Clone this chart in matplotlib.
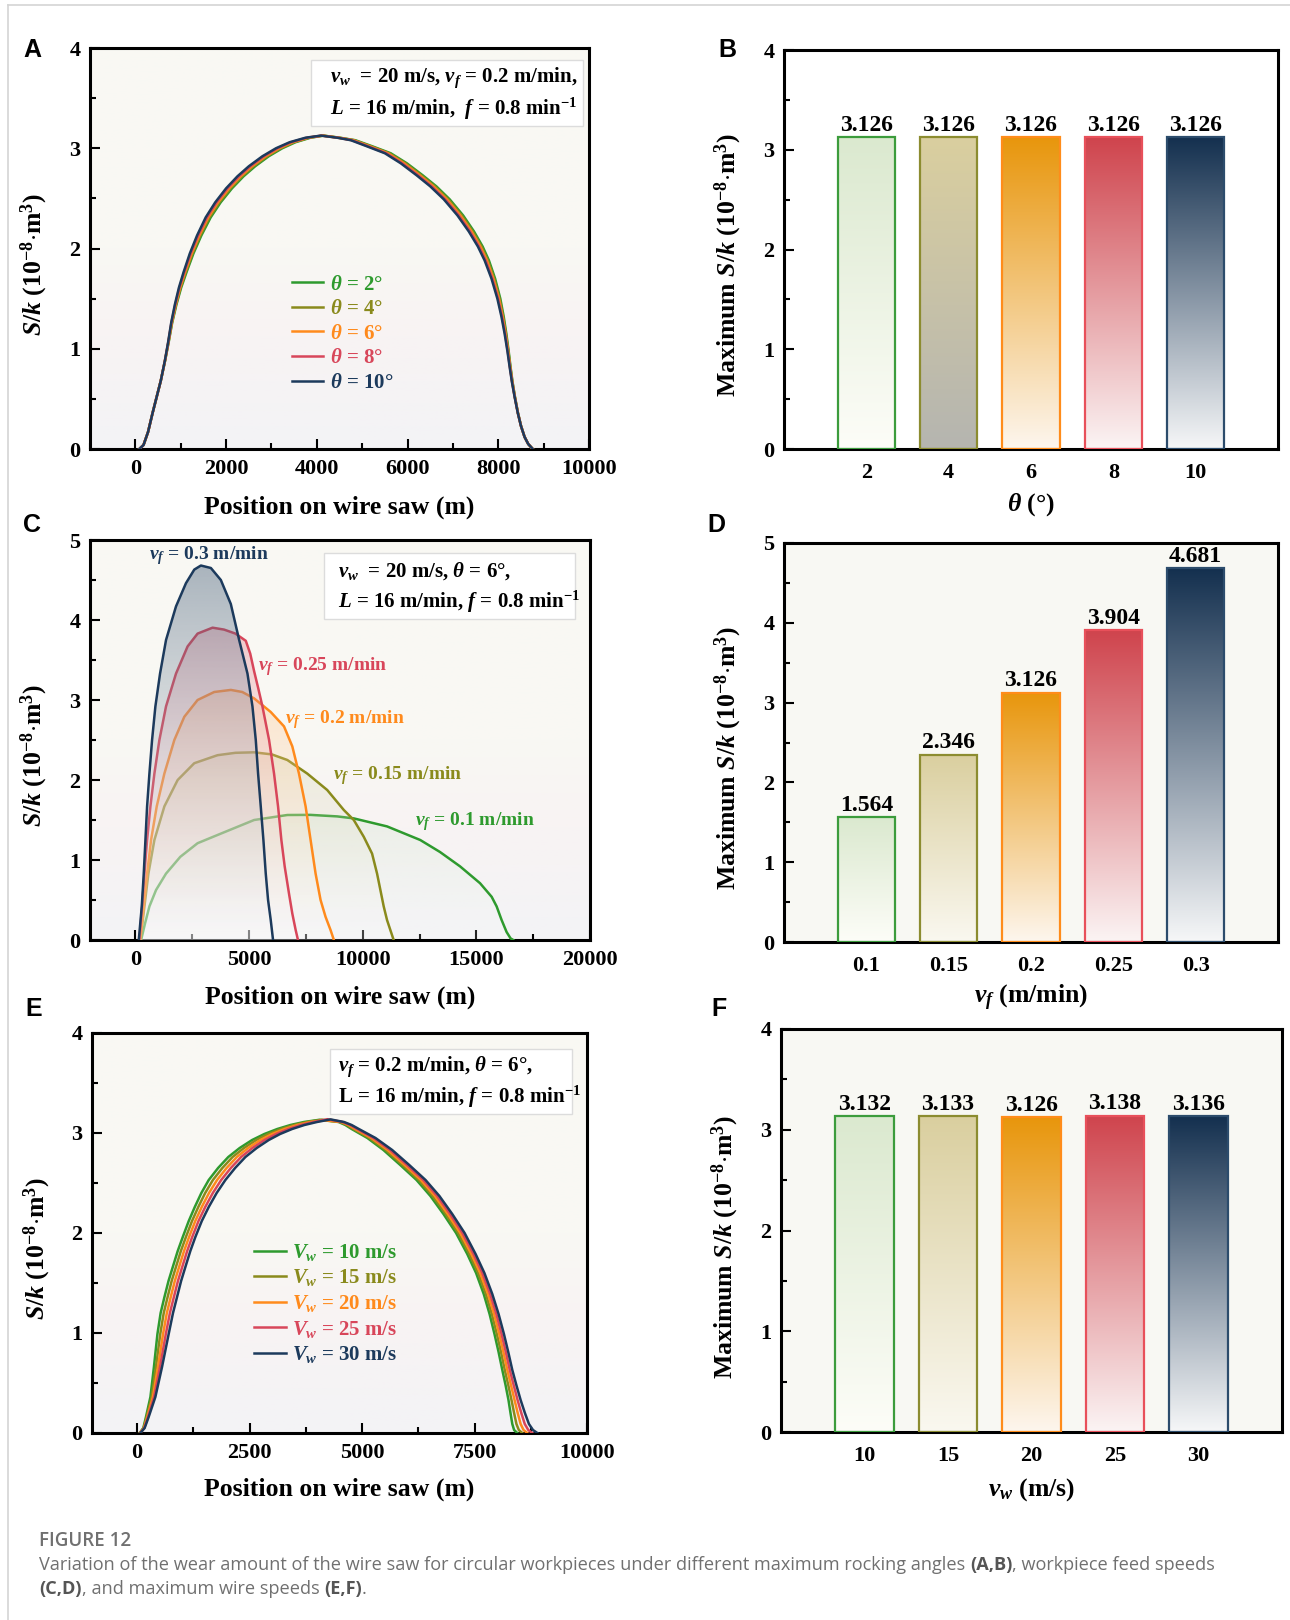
import numpy as np
import matplotlib
matplotlib.use("Agg")
import matplotlib.pyplot as plt
from matplotlib.patches import Polygon, Rectangle
from matplotlib.lines import Line2D
from matplotlib.colors import to_rgb
from matplotlib.ticker import MultipleLocator

plt.rcParams['font.family'] = ['Liberation Serif', 'DejaVu Serif']
plt.rcParams['font.weight'] = 'bold'
plt.rcParams['axes.labelweight'] = 'bold'
plt.rcParams['mathtext.fontset'] = 'custom'
plt.rcParams['mathtext.rm'] = 'Liberation Serif:bold'
plt.rcParams['mathtext.it'] = 'Liberation Serif:italic:bold'
plt.rcParams['mathtext.bf'] = 'Liberation Serif:bold'
plt.rcParams['axes.linewidth'] = 2.2

# series colours: 2/0.1/10, 4/0.15/15, 6/0.2/20, 8/0.25/25, 10/0.3/30
line_colors = ['#2e9a2e', '#8a8a1c', '#ff8a1c', '#d8465a', '#1c3a5c']
bar_tops = ['#dbe9cf', '#dacf9f', '#e8960c', '#cf444d', '#14304f']
bar_bottoms = ['#fdfdf8', '#faf8f0', '#fdf6ee', '#fbf4f4', '#f6f7f8']
bar_edges = ['#3c9c3c', '#8c8c30', '#ff8c1a', '#e8505a', '#2c4c6c']

# ---- (A, B) rocking angle
theta = [2, 4, 6, 8, 10]
b_max = [3.126, 3.126, 3.126, 3.126, 3.126]
a_rise_y = [0, 0.04, 0.17, 0.36, 0.52, 0.68, 0.88, 1.06, 1.26, 1.44, 1.61, 1.76, 1.95,
            2.13, 2.31, 2.46, 2.60, 2.72, 2.82, 2.92, 3.00, 3.06, 3.105]
a_rise_x = [
    [88, 180, 280, 380, 470, 560, 655, 732, 812, 905, 1010, 1125, 1280, 1455, 1660, 1880, 2130, 2385, 2640, 2940, 3240, 3530, 3860],
    [88, 180, 280, 380, 470, 560, 654, 729, 806, 896, 998, 1109, 1260, 1431, 1632, 1850, 2098, 2351, 2605, 2905, 3205, 3498, 3832],
    [88, 180, 280, 380, 470, 560, 652, 726, 801, 888, 985, 1092, 1240, 1408, 1605, 1820, 2065, 2318, 2570, 2870, 3170, 3465, 3805],
    [88, 180, 280, 380, 470, 560, 651, 723, 795, 879, 972, 1076, 1220, 1384, 1578, 1790, 2032, 2284, 2535, 2835, 3135, 3432, 3778],
    [88, 180, 280, 380, 470, 560, 650, 720, 790, 870, 960, 1060, 1200, 1360, 1550, 1760, 2000, 2250, 2500, 2800, 3100, 3400, 3750],
]
a_peak_x = [4150, 4135, 4120, 4105, 4090]
a_fall_y = [3.105, 3.08, 3.02, 2.95, 2.85, 2.73, 2.62, 2.49, 2.33, 2.17, 2.02, 1.88, 1.70,
            1.50, 1.32, 1.15, 0.98, 0.82, 0.67, 0.52, 0.36, 0.23, 0.12, 0.05, 0]
a_fall_x = [
    [4510, 4850, 5220, 5630, 5985, 6335, 6635, 6930, 7225, 7465, 7655, 7795, 7930, 8045, 8120, 8178, 8228, 8270, 8314, 8368, 8434, 8502, 8580, 8660, 8760],
    [4495, 4825, 5190, 5598, 5951, 6301, 6601, 6898, 7194, 7436, 7629, 7771, 7910, 8029, 8108, 8169, 8221, 8265, 8311, 8366, 8433, 8502, 8580, 8660, 8760],
    [4480, 4800, 5160, 5565, 5918, 6268, 6568, 6865, 7163, 7408, 7603, 7748, 7890, 8013, 8095, 8159, 8214, 8260, 8307, 8364, 8432, 8501, 8580, 8660, 8760],
    [4465, 4775, 5130, 5533, 5884, 6234, 6534, 6833, 7131, 7379, 7576, 7724, 7870, 7996, 8083, 8150, 8207, 8255, 8304, 8362, 8431, 8500, 8580, 8660, 8760],
    [4450, 4750, 5100, 5500, 5850, 6200, 6500, 6800, 7100, 7350, 7550, 7700, 7850, 7980, 8070, 8140, 8200, 8250, 8300, 8360, 8430, 8500, 8580, 8660, 8760],
]

# ---- (C, D) feed speed
vf = ['0.1', '0.15', '0.2', '0.25', '0.3']
d_max = [1.564, 2.346, 3.126, 3.904, 4.681]
c_peak_x = [7700, 5221, 4200, 3392, 2880]
c_rise_x = [
    [249, 424, 614, 906, 1345, 1974, 2734, 3759, 5221, 6683],
    [219, 395, 570, 833, 1272, 1857, 2588, 3611, 4400],
    [205, 366, 512, 687, 936, 1272, 1711, 2149, 2734, 3465],
    [175, 292, 395, 512, 658, 833, 1053, 1345, 1784, 2295, 2734],
    [146, 278, 365, 439, 512, 614, 731, 877, 1082, 1345, 1784, 2222, 2588],
]
c_rise_y = [
    [0, 0.21, 0.42, 0.625, 0.83, 1.04, 1.21, 1.33, 1.50, 1.5625],
    [0, 0.42, 0.83, 1.25, 1.67, 2.0, 2.21, 2.31, 2.34],
    [0, 0.42, 0.83, 1.25, 1.67, 2.08, 2.5, 2.79, 3.0, 3.10],
    [0, 0.42, 0.83, 1.25, 1.67, 2.08, 2.5, 2.92, 3.33, 3.67, 3.83],
    [0, 0.42, 0.83, 1.25, 1.67, 2.08, 2.5, 2.92, 3.33, 3.75, 4.17, 4.46, 4.63],
]
c_fall_x = [
    [8876, 9607, 11069, 12531, 13400, 14284, 15161, 15673, 15892, 16111, 16330, 16506, 16623],
    [6000, 6683, 7560, 8437, 9168, 9607, 10046, 10411, 10631, 10777, 10923, 11069, 11215, 11361],
    [4700, 5221, 5952, 6537, 6902, 7195, 7487, 7706, 7926, 8145, 8364, 8584, 8730],
    [3900, 4400, 4855, 5050, 5221, 5400, 5587, 5879, 6098, 6274, 6420, 6566, 6756, 6902, 7049, 7151],
    [3319, 3757, 4196, 4563, 4929, 5148, 5294, 5396, 5513, 5630, 5733, 5835, 5952, 6054],
]
c_fall_y = [
    [1.545, 1.52, 1.42, 1.25, 1.10, 0.92, 0.71, 0.54, 0.42, 0.25, 0.10, 0.02, 0],
    [2.32, 2.25, 2.08, 1.875, 1.625, 1.5, 1.29, 1.08, 0.83, 0.625, 0.42, 0.25, 0.125, 0],
    [3.10, 3.02, 2.85, 2.67, 2.42, 2.08, 1.67, 1.25, 0.83, 0.5, 0.29, 0.125, 0],
    [3.88, 3.83, 3.74, 3.58, 3.36, 3.15, 2.92, 2.5, 2.08, 1.67, 1.25, 0.92, 0.58, 0.33, 0.125, 0],
    [4.65, 4.5, 4.2, 3.75, 3.33, 2.92, 2.5, 2.08, 1.67, 1.25, 0.83, 0.5, 0.25, 0],
]
c_label_x = [12300, 8710, 6560, 5380, 600]
c_label_y = [1.475, 2.06, 2.75, 3.42, 4.8]

# ---- (E, F) wire speed
vw = [10, 15, 20, 25, 30]
f_max = [3.132, 3.133, 3.126, 3.138, 3.136]
e_rise_y = [0, 0.05, 0.16, 0.36, 0.66, 0.99, 1.2, 1.36, 1.52, 1.66, 1.82, 1.96, 2.12,
            2.26, 2.40, 2.53, 2.65, 2.76, 2.85, 2.93, 2.99, 3.04, 3.08, 3.11]
e_rise_x = [
    [60, 140, 199, 298, 376, 454, 525, 610, 700, 795, 905, 1017, 1150, 1284, 1430, 1594, 1802, 2029, 2282, 2558, 2830, 3117, 3410, 3710],
    [64, 148, 214, 326, 421, 517, 594, 680, 770, 865, 975, 1087, 1223, 1362, 1515, 1687, 1897, 2124, 2377, 2651, 2918, 3200, 3488, 3783],
    [67, 155, 229, 353, 466, 579, 663, 750, 840, 935, 1045, 1157, 1295, 1439, 1600, 1779, 1991, 2219, 2471, 2743, 3005, 3282, 3565, 3855],
    [70, 162, 244, 380, 511, 641, 731, 820, 910, 1005, 1115, 1227, 1367, 1516, 1685, 1871, 2085, 2314, 2565, 2835, 3092, 3364, 3642, 3927],
    [74, 170, 259, 408, 556, 704, 800, 890, 980, 1075, 1185, 1297, 1440, 1594, 1770, 1964, 2180, 2409, 2660, 2928, 3180, 3447, 3720, 4000],
]
e_peak_x = [4050, 4110, 4170, 4230, 4300]
e_fall_y = [3.11, 3.08, 3.04, 2.95, 2.83, 2.68, 2.53, 2.37, 2.19, 2.0, 1.79, 1.60, 1.39,
            1.19, 0.99, 0.81, 0.63, 0.48, 0.33, 0.20, 0.09, 0.03, 0]
e_fall_x = [
    [4480, 4630, 4770, 5120, 5476, 5850, 6212, 6520, 6810, 7090, 7339, 7535, 7705, 7835, 7944, 8035, 8118, 8190, 8255, 8300, 8340, 8380, 8450],
    [4510, 4665, 4810, 5165, 5525, 5900, 6262, 6570, 6859, 7137, 7385, 7581, 7752, 7885, 7996, 8089, 8173, 8250, 8322, 8380, 8432, 8485, 8561],
    [4540, 4700, 4850, 5210, 5573, 5950, 6312, 6620, 6907, 7185, 7431, 7627, 7800, 7935, 8049, 8142, 8229, 8310, 8390, 8460, 8525, 8590, 8673],
    [4570, 4735, 4890, 5255, 5622, 6000, 6362, 6670, 6956, 7232, 7478, 7674, 7847, 7985, 8101, 8196, 8284, 8370, 8457, 8540, 8617, 8695, 8784],
    [4600, 4770, 4930, 5300, 5671, 6050, 6412, 6720, 7005, 7280, 7524, 7720, 7895, 8035, 8154, 8250, 8340, 8430, 8525, 8620, 8710, 8800, 8896],
]

W, H = 1290, 1620
fig = plt.figure(figsize=(W / 100, H / 100), dpi=100)
fig.patch.set_facecolor('white')


def px_axes(left, top, right, bottom):
    return fig.add_axes([left / W, 1 - bottom / H, (right - left) / W, (bottom - top) / H])


def vgrad(top, bottom, a_top=1.0, a_bot=1.0, n=256):
    t = np.linspace(0, 1, n)[:, None]
    rgb = (1 - t) * np.array(to_rgb(top)) + t * np.array(to_rgb(bottom))
    a = (1 - t) * a_top + t * a_bot
    return np.hstack([rgb, a])[:, None, :]


def soft_background(ax):
    stops = [0.0, 0.28, 0.5, 1.0]
    cols = np.array([to_rgb(c) for c in ['#f3f3f6', '#f8f3f3', '#f9f8f3', '#f9f9f4']])
    t = np.linspace(1, 0, 256)
    img = np.stack([np.interp(t, stops, cols[:, k]) for k in range(3)], axis=1)[:, None, :]
    ax.imshow(img, extent=(0, 1, 0, 1), transform=ax.transAxes, aspect='auto', zorder=0)


def frame_ticks(ax, xlim, ylim, xmajor, xminor=None, ymajor=1, yminor=0.5):
    ax.set_xlim(xlim)
    ax.set_ylim(ylim)
    if xminor is not None:
        ax.xaxis.set_major_locator(MultipleLocator(xmajor))
        ax.xaxis.set_minor_locator(MultipleLocator(xminor))
    ax.yaxis.set_major_locator(MultipleLocator(ymajor))
    ax.yaxis.set_minor_locator(MultipleLocator(yminor))
    ax.tick_params(which='both', direction='in', width=1.5, labelsize=16, pad=7)
    ax.tick_params(which='major', length=7)
    ax.tick_params(which='minor', length=4)


def info_box(ax, box, tx, ty, lines):
    x0, y0, x1, y1 = box
    ax.add_patch(Rectangle((x0, y0), x1 - x0, y1 - y0, transform=ax.transAxes,
                           fc='white', ec='#dcdcdc', lw=1, zorder=20))
    for yy, s in zip(ty, lines):
        ax.text(tx, yy, s, transform=ax.transAxes, fontsize=15, va='center',
                ha='left', zorder=21)


def set_labels(ax, xlabel, ylabel, xy, yx):
    ax.set_xlabel(xlabel, fontsize=18.5, va='center')
    ax.set_ylabel(ylabel, fontsize=18.5, va='center')
    ax.xaxis.set_label_coords(0.5, xy)
    ax.yaxis.set_label_coords(yx, 0.46)


def bar_panel(ax, cats, vals, tops, bottoms, ylim, bg):
    pos = np.arange(1, len(vals) + 1)
    bars = ax.bar(pos, vals, width=0.7, facecolor='none', edgecolor=bar_edges,
                  linewidth=1.6, zorder=3)
    for rect, ct, cb in zip(bars, tops, bottoms):
        x0 = rect.get_x()
        ax.imshow(vgrad(ct, cb), extent=(x0, x0 + rect.get_width(), 0, rect.get_height()),
                  aspect='auto', zorder=2)
    ax.bar_label(bars, labels=[f'{v:.3f}' for v in vals], padding=1, fontsize=17)
    ax.set_facecolor(bg)
    frame_ticks(ax, (0, len(vals) + 1), ylim, 1)
    ax.set_xticks(pos, [str(c) for c in cats])
    ax.tick_params(axis='x', which='both', length=0, pad=10)


bar_ylabel = r'Maximum $S/k$ (10$^{-8}$$\cdot$m$^{3}$)'
curve_ylabel = r'$S/k$ (10$^{-8}$$\cdot$m$^{3}$)'
pos_label = 'Position on wire saw (m)'

# ---------- A
axA = px_axes(90, 48, 589, 449)
soft_background(axA)
for i in range(5):
    xs = a_rise_x[i] + [a_peak_x[i]] + a_fall_x[i]
    ys = a_rise_y + [b_max[i]] + a_fall_y
    axA.plot(xs, ys, color=line_colors[i], lw=1.8, zorder=3,
             label=r'$\theta$ = %d°' % theta[i])
axA.legend(loc='upper left', bbox_to_anchor=(0.405, 0.435), frameon=False, fontsize=15,
           handlelength=1.5, handletextpad=0.3, labelspacing=0.22, borderpad=0,
           borderaxespad=0, labelcolor='linecolor')
frame_ticks(axA, (-1000, 10000), (0, 4), 2000, 1000)
info_box(axA, (0.442, 0.806, 0.988, 0.970), 0.481, (0.925, 0.848),
         [r'$v_w$  = 20 m/s, $v_f$ = 0.2 m/min,', r'$L$ = 16 m/min,  $f$ = 0.8 min$^{-1}$'])
set_labels(axA, pos_label, curve_ylabel, -0.145, -0.112)

# ---------- B
axB = px_axes(784, 50, 1278, 449)
b_bottoms = list(bar_bottoms)
b_bottoms[1] = '#b5b5b0'
bar_panel(axB, theta, b_max, bar_tops, b_bottoms, (0, 4), 'white')
set_labels(axB, r'$\theta$ (°)', bar_ylabel, -0.14, -0.113)

# ---------- C  (fills shade from the curve colour at the top of the axis to white at 0)
axC = px_axes(90, 540, 590, 940)
soft_background(axC)
for i in range(5):
    xs = c_rise_x[i] + [c_peak_x[i]] + c_fall_x[i]
    ys = c_rise_y[i] + [d_max[i]] + c_fall_y[i]
    poly = Polygon(np.column_stack([xs, ys]), closed=True, fc='none', ec='none')
    axC.add_patch(poly)
    im = axC.imshow(vgrad(line_colors[i], 'white', 0.40, 0.14),
                    extent=(min(xs), max(xs), 0, 5), aspect='auto', zorder=2 + 2 * i)
    im.set_clip_path(poly)
    axC.plot(xs, ys, color=line_colors[i], lw=1.8, zorder=3 + 2 * i)
    axC.text(c_label_x[i], c_label_y[i], r'$v_f$ = %s m/min' % vf[i], color=line_colors[i],
             fontsize=14, va='center', ha='left', zorder=15)
frame_ticks(axC, (-2000, 20000), (0, 5), 5000, 2500)
info_box(axC, (0.468, 0.8025, 0.97, 0.9675), 0.496, (0.9225, 0.845),
         [r'$v_w$  = 20 m/s, $\theta$ = 6°,', r'$L$ = 16 m/min, $f$ = 0.8 min$^{-1}$'])
set_labels(axC, pos_label, curve_ylabel, -0.144, -0.112)

# ---------- D
axD = px_axes(784, 543, 1278, 942)
bar_panel(axD, vf, d_max, bar_tops, bar_bottoms, (0, 5), '#f8f8f3')
set_labels(axD, r'$v_f$ (m/min)', bar_ylabel, -0.14, -0.113)

# ---------- E
axE = px_axes(92, 1033, 587, 1433)
soft_background(axE)
for i in range(5):
    xs = e_rise_x[i] + [e_peak_x[i]] + e_fall_x[i]
    ys = e_rise_y + [f_max[i]] + e_fall_y
    axE.plot(xs, ys, color=line_colors[i], lw=1.8, zorder=3,
             label=r'$V_w$ = %d m/s' % vw[i])
axE.legend(loc='upper left', bbox_to_anchor=(0.328, 0.478), frameon=False, fontsize=15,
           handlelength=1.5, handletextpad=0.3, labelspacing=0.22, borderpad=0,
           borderaxespad=0, labelcolor='linecolor')
frame_ticks(axE, (-1000, 10000), (0, 4), 2500, 1250)
info_box(axE, (0.48, 0.797, 0.97, 0.96), 0.497, (0.915, 0.84),
         [r'$v_f$ = 0.2 m/min, $\theta$ = 6°,', r'L = 16 m/min, $f$ = 0.8 min$^{-1}$'])
set_labels(axE, pos_label, curve_ylabel, -0.14, -0.111)

# ---------- F
axF = px_axes(781, 1029, 1282, 1432)
bar_panel(axF, vw, f_max, bar_tops, bar_bottoms, (0, 4), '#f8f8f3')
set_labels(axF, r'$v_w$ (m/s)', bar_ylabel, -0.142, -0.112)

# panel letters
for letter, (lx, ly) in zip('ABCDEF', [(23, 50), (718, 50), (23, 525), (707, 525),
                                       (25, 1009), (711, 1009)]):
    fig.text(lx / W, 1 - ly / H, letter, family='Liberation Sans', weight='bold',
             fontsize=18, ha='left', va='center')

# page frame
fig.add_artist(Line2D([8 / W, 1], [1 - 5 / H, 1 - 5 / H], color='#d4d4d4', lw=1.2))
fig.add_artist(Line2D([8 / W, 8 / W], [0, 1 - 5 / H], color='#d4d4d4', lw=1.2))

# caption
renderer = fig.canvas.get_renderer()


def text_width(s, **kw):
    t1 = fig.text(0, 0, '|' + s + '|', **kw)
    t2 = fig.text(0, 0, '||', **kw)
    w = t1.get_window_extent(renderer).width - t2.get_window_extent(renderer).width
    t1.remove()
    t2.remove()
    return w


def rich_line(x_px, y_px, parts, size=13.1):
    for s, bold in parts:
        kw = dict(family='Open Sans', fontsize=size, color='#555555' if bold else '#707070',
                  weight='bold' if bold else 'normal')
        fig.text(x_px / W, 1 - y_px / H, s, va='center', ha='left', **kw)
        x_px += text_width(s, **kw)


fig.text(39 / W, 1 - 1541 / H, 'FIGURE 12', family='Open Sans', weight='semibold',
         fontsize=13.5, color='#707070', va='center', ha='left')
rich_line(39, 1565, [('Variation of the wear amount of the wire saw for circular workpieces '
                      'under different maximum rocking angles ', False), ('(A,B)', True),
                     (', workpiece feed speeds', False)])
rich_line(39, 1589, [('(C,D)', True), (', and maximum wire speeds ', False), ('(E,F)', True),
                     ('.', False)])

fig.savefig('out.png', dpi=100, facecolor='white')
